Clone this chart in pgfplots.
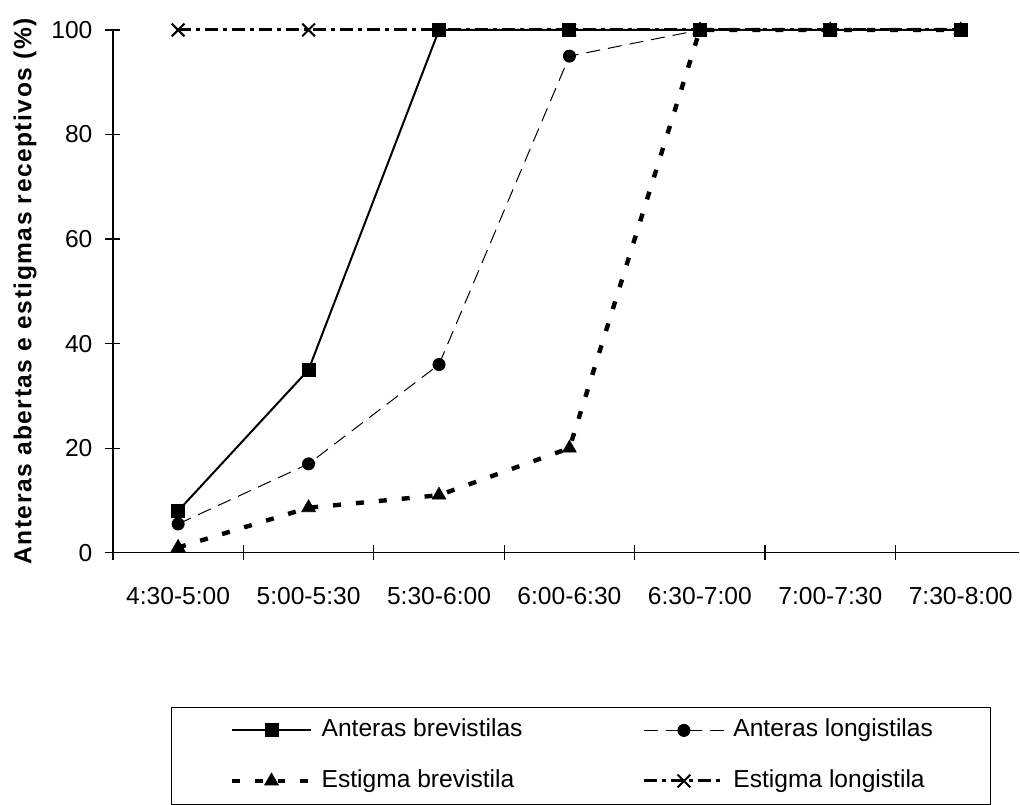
\documentclass[border=0pt]{standalone}
\usepackage{fontspec}
\setmainfont{Liberation Sans}
\usepackage{pgfplots}
\pgfplotsset{compat=1.18}
\begin{document}
\begin{tikzpicture}
\begin{axis}[
  at={(56.5pt,125pt)}, anchor=south west,
  scale only axis,
  width=453.5pt, height=261.5pt,
  xmin=-0.5, xmax=6.45,
  ymin=0, ymax=100,
  clip=false,
  axis x line*=bottom, axis y line*=left,
  axis line style={-, line width=0.6pt, black},
  every tick/.style={line width=0.6pt, black},
  tick align=center,
  major tick length=7.5pt,
  xtick={-0.5,0.5,1.5,2.5,3.5,4.5,5.5},
  xticklabels={},
  extra x ticks={0,1,2,3,4,5,6},
  extra x tick labels={4:30-5:00,5:00-5:30,5:30-6:00,6:00-6:30,6:30-7:00,7:00-7:30,7:30-8:00},
  extra x tick style={major tick length=0pt},
  ytick={0,20,40,60,80,100},
  /pgf/number format/assume math mode=true,
  tick label style={font=\fontsize{12.3}{14}\selectfont},
  xticklabel style={yshift=-14pt},
  yticklabel style={xshift=-3pt},
  ylabel={Anteras abertas e estigmas receptivos (\%)},
  ylabel style={at={(axis description cs:-0.097,0.5)}, anchor=center, font=\fontsize{12.3}{14}\selectfont\bfseries\addfontfeatures{LetterSpace=6}},
  legend columns=2,
  legend cell align=left,
  legend image code/.code={\draw[mark repeat=2,mark phase=2,#1] plot coordinates {(0pt,0pt) (20pt,0pt) (40pt,0pt)};},
  legend style={at={(axis description cs:0.0639,-0.2945)}, anchor=north west, draw=black, line width=0.5pt,
    font=\fontsize{12.3}{14}\selectfont,
    inner xsep=29pt, inner ysep=6pt,
    row sep=14pt,
    nodes={inner sep=0pt, text height=8.8pt, text depth=2.5pt},
    /tikz/every odd column/.append style={column sep=4pt},
    /tikz/every even column/.append style={column sep=60pt}},
]
\addplot[forget plot, black, line width=1.5pt, dash pattern=on 6.5pt off 2.5pt on 2pt off 2.5pt,
  mark=x, mark size=4.5pt, mark options={solid, line width=1pt}]
  coordinates {(0,100)(1,100)(2,100)(3,100)(4,100)(5,100)(6,100)};
\addplot[black, line width=1pt, mark=square*, mark size=3pt, mark options={solid}]
  coordinates {(0,8)(1,35)(2,100)(3,100)(4,100)(5,100)(6,100)};
\addlegendentry{Anteras brevistilas}
\addplot[black, line width=0.5pt, dash pattern=on 7pt off 4pt, mark=*, mark size=3pt, mark options={solid}]
  coordinates {(0,5.5)(1,17)(2,36)(3,95)(4,100)(5,100)(6,100)};
\addlegendentry{Anteras longistilas}
\addplot[black, line width=2.2pt, dash pattern=on 4pt off 7.5pt, mark=triangle*, mark size=4pt, mark options={solid, line width=0.3pt}]
  coordinates {(0,1)(1,8.6)(2,11)(3,20)(4,100)(5,100)(6,100)};
\addlegendentry{Estigma brevistila}
\addlegendimage{black, line width=1.5pt, dash pattern=on 6.5pt off 2.5pt on 2pt off 2.5pt, mark=x, mark size=4.5pt, mark options={solid, line width=1pt}}
\addlegendentry{Estigma longistila}
\end{axis}
\path[use as bounding box] (0,0) rectangle (510pt,401.5pt);
\end{tikzpicture}
\end{document}
